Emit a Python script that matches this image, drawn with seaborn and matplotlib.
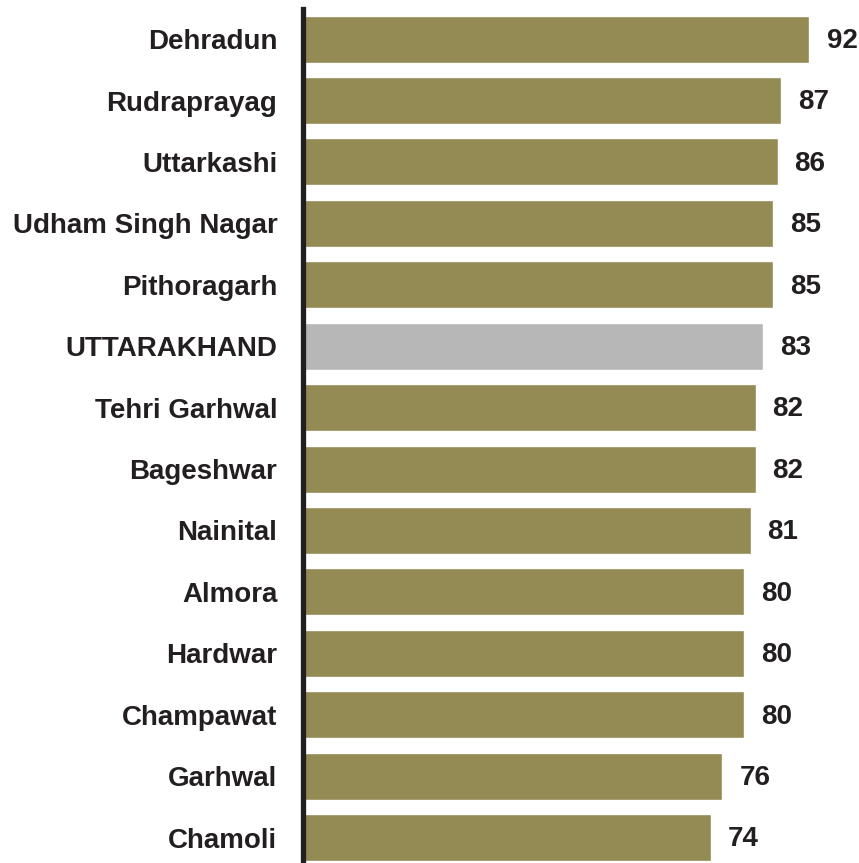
import numpy as np
import pandas as pd
import matplotlib
matplotlib.use("Agg")
import matplotlib.pyplot as plt
import seaborn as sns

# 数据：各地区数值（条长按图估计，标签为图上整数）
districts = ["Dehradun", "Rudraprayag", "Uttarkashi", "Udham Singh Nagar", "Pithoragarh",
             "UTTARAKHAND", "Tehri Garhwal", "Bageshwar", "Nainital", "Almora",
             "Hardwar", "Champawat", "Garhwal", "Chamoli"]
values = [92.0, 86.8, 86.2, 85.3, 85.3, 83.5, 82.2, 82.2, 81.3, 80.2, 80.2, 80.2, 76.2, 74.1]
labels = ["92", "87", "86", "85", "85", "83", "82", "82", "81", "80", "80", "80", "76", "74"]

olive = "#948A54"
grey = "#B7B7B7"
text_c = "#231F20"

df = pd.DataFrame({"district": districts, "value": values})
df["group"] = np.where(df["district"] == "UTTARAKHAND", "state", "district")

sns.set_style("white")
plt.rcParams['font.family'] = ['Liberation Sans', 'DejaVu Sans']

fig = plt.figure(figsize=(8.59, 8.63), dpi=100)
ax = fig.add_axes([303 / 859, 0, 1 - 303 / 859, 1 - 9 / 863])

sns.barplot(data=df, x="value", y="district", hue="group", orient="h",
            palette={"district": olive, "state": grey}, dodge=False,
            width=0.765, legend=False, ax=ax, saturation=1)

for i, (v, t) in enumerate(zip(values, labels)):
    ax.text(v + 3.1, i + 0.03, t, va="center", ha="left", fontsize=20,
            fontweight="bold", color=text_c)

ax.set_xlim(0, 101)
ax.set_ylim(13.415, -0.49)
ax.set_xlabel("")
ax.set_ylabel("")
ax.set_xticks([])
ax.tick_params(axis="y", length=0, pad=18.5)
for lab in ax.get_yticklabels():
    lab.set_fontsize(20)
    lab.set_fontweight("bold")
    lab.set_color(text_c)

for s in ["top", "right", "bottom"]:
    ax.spines[s].set_visible(False)
ax.spines["left"].set_linewidth(3.8)
ax.spines["left"].set_color(text_c)

fig.savefig("out.png", dpi=100)
